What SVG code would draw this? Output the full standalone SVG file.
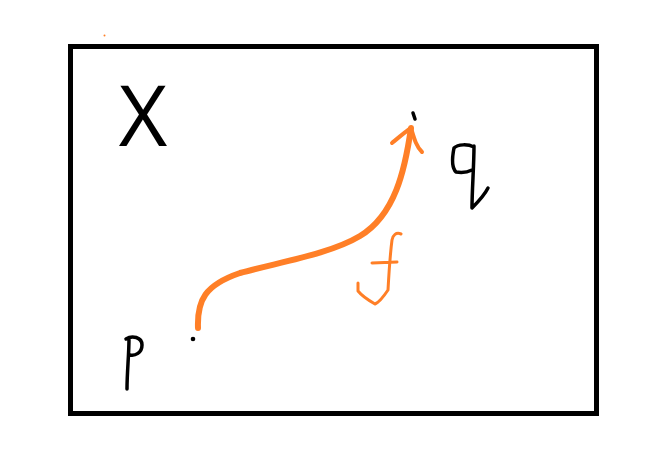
<svg xmlns="http://www.w3.org/2000/svg" width="672" height="469" viewBox="0 0 672 469">
<style>
.ink{fill:none;stroke:#000;stroke-width:3.5;stroke-linecap:round;stroke-linejoin:round}
.or{fill:none;stroke:#FF7F27;stroke-linecap:round;stroke-linejoin:round}
.lbl{font-family:"Open Sans","Liberation Sans",sans-serif;fill:#000}
</style>
<rect width="672" height="469" fill="#fff"/>
<rect id="frame" x="70.5" y="46.5" width="526" height="367" fill="none" stroke="#000" stroke-width="5"/>
<circle cx="104.5" cy="35.5" r="1" fill="#FF7F27"/>
<g id="space-X">
<text class="lbl" x="143" y="146" font-size="84" text-anchor="middle">X</text>
</g>
<g id="point-p">
<circle cx="193" cy="339" r="2.3" fill="#000"/>
<path class="ink" d="M126,339 C132,335 142,337 142,345 C142,353 135,356 130,355 M129,338 C129,355 127,372 127,389"/>
</g>
<g id="point-q">
<path d="M413,113 L415,119" stroke="#000" stroke-width="3.5" stroke-linecap="round"/>
<path class="ink" d="M474,147 C468,144 458,144 454,148 C452,158 452,168 456,172 C462,173 468,172 472,170 M474,146 C474,165 472,190 472,208 C478,202 484,196 488,188"/>
</g>
<g id="connectors">
<path class="or" stroke-width="6" d="M198,328 C197,300 205,285 240,273 C280,262 330,254 360,236 C395,215 405,170 411,128"/>
<path class="or" stroke-width="4" d="M392,143 C398,138 405,132 411,128 C414,138 416,146 422,152"/>
<g id="label-f">
<path class="or" stroke-width="3" d="M401,234 C396,232 393,235 392,240 C390,255 389,272 388,290 C384,296 380,302 375,304 C368,300 362,296 358,291 L358,283 M372,263 L397,262"/>
</g>
</g>
</svg>
